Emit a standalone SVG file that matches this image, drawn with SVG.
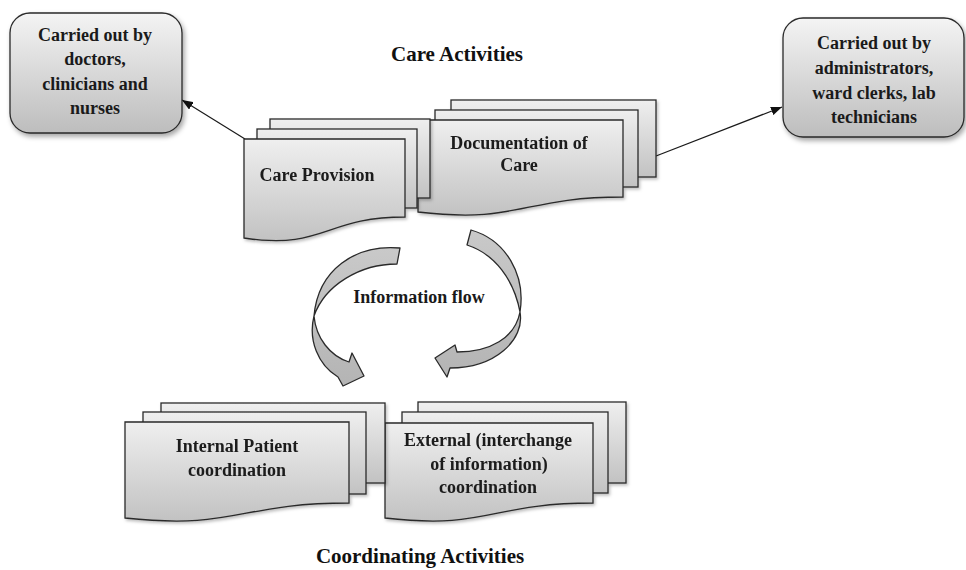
<svg xmlns="http://www.w3.org/2000/svg" width="966" height="570" viewBox="0 0 966 570">
  <style>
    .label { font-family: "Liberation Serif", Tinos, "DejaVu Serif", serif; font-weight: bold; font-size: 18px; fill: #1a1a1a; text-anchor: middle; }
    .title { font-family: "Liberation Serif", Tinos, "DejaVu Serif", serif; font-weight: bold; font-size: 21px; fill: #111; text-anchor: middle; }
    .sheet { fill: url(#sheetFill); stroke: #2a2a2a; stroke-width: 1.3; stroke-linejoin: miter; }
    .box { fill: url(#boxFill); stroke: #2a2a2a; stroke-width: 1.3; }
    .link { fill: none; stroke: #1a1a1a; stroke-width: 1.2; }
    .flow { fill: url(#arrowFill); stroke: #2a2a2a; stroke-width: 1.3; stroke-linejoin: round; }
  </style>
  <defs>
    <linearGradient id="sheetFill" x1="0" y1="0" x2="0" y2="1">
      <stop offset="0" stop-color="#efefef"/>
      <stop offset="1" stop-color="#c2c2c2"/>
    </linearGradient>
    <linearGradient id="boxFill" x1="0" y1="0" x2="0" y2="1">
      <stop offset="0" stop-color="#f4f4f4"/>
      <stop offset="1" stop-color="#bdbdbd"/>
    </linearGradient>
    <linearGradient id="arrowFill" x1="0" y1="0" x2="0" y2="1">
      <stop offset="0" stop-color="#c9c9c9"/>
      <stop offset="1" stop-color="#b4b4b4"/>
    </linearGradient>
    <filter id="shadow" x="-10%" y="-10%" width="130%" height="140%">
      <feDropShadow dx="2" dy="3" stdDeviation="2.5" flood-color="#000" flood-opacity="0.35"/>
    </filter>
    <filter id="softShadow" x="-10%" y="-10%" width="130%" height="140%">
      <feDropShadow dx="1.5" dy="2" stdDeviation="1.5" flood-color="#000" flood-opacity="0.25"/>
    </filter>
    <marker id="arrowhead" viewBox="0 0 10 8" refX="10" refY="4" markerWidth="11" markerHeight="9" markerUnits="userSpaceOnUse" orient="auto">
      <path d="M0,0 L10,4 L0,8 z" fill="#111"/>
    </marker>
  </defs>

  <rect width="966" height="570" fill="#ffffff"/>

  <!-- section titles -->
  <text class="title" font-family="Liberation Serif, serif" x="457" y="61">Care Activities</text>
  <text class="title" font-family="Liberation Serif, serif" x="420" y="563">Coordinating Activities</text>

  <!-- connectors: plain arrows to the staff boxes and the two curved flow arrows -->
  <g id="connectors">
    <line class="link" x1="245" y1="139" x2="182" y2="100" marker-end="url(#arrowhead)"/>
    <line class="link" x1="656" y1="156" x2="782" y2="107" marker-end="url(#arrowhead)"/>
    <g id="flow-arrows">
      <!-- left curved arrow: ribbon twists at its leftmost point -->
      <path class="flow" d="M400,248 C355,244 318,270 314,316 C316,338 330,356 349,362 L352,353 L364,376 L343,386 L338,377 C318,365 308,340 314,316 C325,285 360,264 397,264 Z"/>
      <!-- right curved arrow -->
      <path class="flow" d="M471,230 C506,240 526,275 520,312 C515,338 490,352 457,352 L455,345 L435,358 L447,377 L450,368 C495,368 525,340 520,312 C514,280 495,254 467,245 Z"/>
    </g>
  </g>
  <text class="label" x="419" y="303">Information flow</text>

  <!-- staff boxes -->
  <g id="clinical-staff">
    <rect class="box" x="10" y="13" width="172" height="120" rx="20" ry="20" filter="url(#shadow)"/>
    <text class="label" x="95" y="41">Carried out by</text>
    <text class="label" x="95" y="65">doctors,</text>
    <text class="label" x="95" y="90">clinicians and</text>
    <text class="label" x="95" y="114">nurses</text>
  </g>

  <g id="admin-staff">
    <rect class="box" x="783" y="18" width="181" height="119" rx="20" ry="20" filter="url(#shadow)"/>
    <text class="label" x="874" y="49">Carried out by</text>
    <text class="label" x="874" y="74">administrators,</text>
    <text class="label" x="874" y="99">ward clerks, lab</text>
    <text class="label" x="874" y="123">technicians</text>
  </g>

  <!-- care activity document stacks -->
  <g id="documentation-of-care" filter="url(#softShadow)">
    <rect class="sheet" x="451" y="100" width="205" height="77"/>
    <rect class="sheet" x="435" y="110" width="203" height="77"/>
    <path class="sheet" d="M418,120 H623 V197 C520.5,197 520.5,224 418,212 Z"/>
    <text class="label" x="519" y="149">Documentation of</text>
    <text class="label" x="519" y="171">Care</text>
  </g>

  <g id="care-provision" filter="url(#softShadow)">
    <rect class="sheet" x="270" y="119" width="160" height="79"/>
    <rect class="sheet" x="257" y="129" width="160" height="79"/>
    <path class="sheet" d="M244,139 H405 V217 C324.5,217 324.5,250 244,238 Z"/>
    <text class="label" x="317" y="181">Care Provision</text>
  </g>

  <!-- coordinating activity document stacks -->
  <g id="external-coordination" filter="url(#softShadow)">
    <rect class="sheet" x="418" y="402" width="208" height="81"/>
    <rect class="sheet" x="402" y="412" width="206" height="81"/>
    <path class="sheet" d="M385,423 H593 V503 C489,503 489,530 385,518 Z"/>
    <text class="label" x="488" y="446">External (interchange</text>
    <text class="label" x="489" y="470">of information)</text>
    <text class="label" x="488" y="493">coordination</text>
  </g>

  <g id="internal-coordination" filter="url(#softShadow)">
    <rect class="sheet" x="161" y="403" width="224" height="80"/>
    <rect class="sheet" x="143" y="412" width="223" height="82"/>
    <path class="sheet" d="M125,422 H349 V503 C237,503 237,530 125,518 Z"/>
    <text class="label" x="237" y="452">Internal Patient</text>
    <text class="label" x="237" y="476">coordination</text>
  </g>
</svg>
